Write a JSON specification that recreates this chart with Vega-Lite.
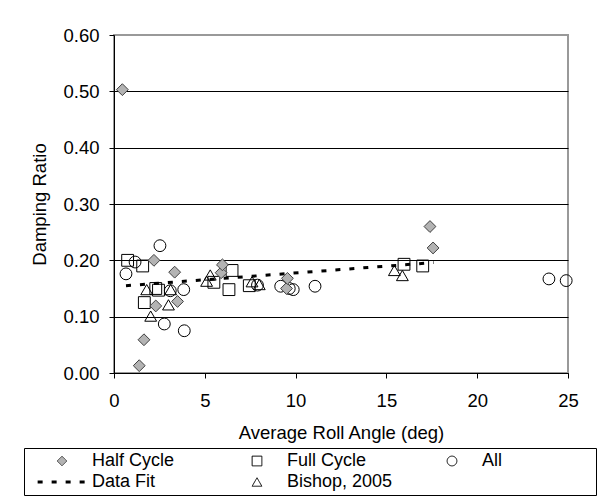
{
  "$schema": "https://vega.github.io/schema/vega-lite/v6.json",
  "width": 454,
  "height": 338,
  "autosize": {"type": "none"},
  "padding": {"left": 114, "top": 35, "right": 41, "bottom": 125},
  "background": "white",
  "data": {
    "values": [
      {"series": "Data Fit", "x": 0.66, "y": 0.155},
      {"series": "Data Fit", "x": 17.6, "y": 0.196},
      {"series": "Bishop, 2005", "x": 1.8, "y": 0.148},
      {"series": "Bishop, 2005", "x": 2.02, "y": 0.101},
      {"series": "Bishop, 2005", "x": 3.0, "y": 0.121},
      {"series": "Bishop, 2005", "x": 3.12, "y": 0.148},
      {"series": "Bishop, 2005", "x": 5.1, "y": 0.163},
      {"series": "Bishop, 2005", "x": 5.3, "y": 0.174},
      {"series": "Bishop, 2005", "x": 7.6, "y": 0.162},
      {"series": "Bishop, 2005", "x": 8.0, "y": 0.157},
      {"series": "Bishop, 2005", "x": 15.44, "y": 0.182},
      {"series": "Bishop, 2005", "x": 15.88, "y": 0.173},
      {"series": "All", "x": 0.66, "y": 0.176},
      {"series": "All", "x": 1.16, "y": 0.197},
      {"series": "All", "x": 2.53, "y": 0.226},
      {"series": "All", "x": 2.77, "y": 0.087},
      {"series": "All", "x": 3.1, "y": 0.146},
      {"series": "All", "x": 3.84, "y": 0.148},
      {"series": "All", "x": 3.87, "y": 0.075},
      {"series": "All", "x": 7.9, "y": 0.156},
      {"series": "All", "x": 9.18, "y": 0.154},
      {"series": "All", "x": 9.65, "y": 0.15},
      {"series": "All", "x": 9.87, "y": 0.148},
      {"series": "All", "x": 11.07, "y": 0.154},
      {"series": "All", "x": 23.95, "y": 0.167},
      {"series": "All", "x": 24.9, "y": 0.164},
      {"series": "Full Cycle", "x": 0.75, "y": 0.2},
      {"series": "Full Cycle", "x": 1.58, "y": 0.19},
      {"series": "Full Cycle", "x": 1.67, "y": 0.125},
      {"series": "Full Cycle", "x": 2.3, "y": 0.15},
      {"series": "Full Cycle", "x": 2.45, "y": 0.147},
      {"series": "Full Cycle", "x": 5.5, "y": 0.161},
      {"series": "Full Cycle", "x": 6.33, "y": 0.148},
      {"series": "Full Cycle", "x": 6.5, "y": 0.182},
      {"series": "Full Cycle", "x": 7.45, "y": 0.155},
      {"series": "Full Cycle", "x": 15.97, "y": 0.193},
      {"series": "Full Cycle", "x": 17.0, "y": 0.19},
      {"series": "Half Cycle", "x": 0.46, "y": 0.503},
      {"series": "Half Cycle", "x": 1.39, "y": 0.013},
      {"series": "Half Cycle", "x": 1.65, "y": 0.059},
      {"series": "Half Cycle", "x": 2.2, "y": 0.2},
      {"series": "Half Cycle", "x": 2.3, "y": 0.119},
      {"series": "Half Cycle", "x": 3.34, "y": 0.179},
      {"series": "Half Cycle", "x": 3.5, "y": 0.127},
      {"series": "Half Cycle", "x": 5.9, "y": 0.178},
      {"series": "Half Cycle", "x": 5.97, "y": 0.192},
      {"series": "Half Cycle", "x": 9.5, "y": 0.15},
      {"series": "Half Cycle", "x": 9.55, "y": 0.168},
      {"series": "Half Cycle", "x": 17.4, "y": 0.26},
      {"series": "Half Cycle", "x": 17.57, "y": 0.222}
    ]
  },
  "config": {
    "font": "Liberation Sans",
    "view": {"stroke": "#999999", "strokeWidth": 2},
    "axis": {
      "labelFont": "Liberation Sans",
      "titleFont": "Liberation Sans",
      "labelFontSize": 18.5,
      "titleFontSize": 18.5,
      "titleFontWeight": "normal",
      "labelColor": "black",
      "titleColor": "black",
      "domainColor": "black",
      "tickColor": "black",
      "tickSize": 5
    },
    "legend": {
      "labelFont": "Liberation Sans",
      "labelFontSize": 18,
      "labelColor": "black",
      "titleFont": "Liberation Sans",
      "titleFontSize": 18
    }
  },
  "layer": [
    {
      "transform": [{"filter": "datum.series === 'Data Fit'"}],
      "mark": {"type": "line", "color": "black"},
      "encoding": {
        "x": {"field": "x", "type": "quantitative", "scale": {"domain": [0, 25], "nice": false},
          "axis": {"values": [0, 5, 10, 15, 20, 25], "title": "Average Roll Angle (deg)", "grid": false, "labelPadding": 13, "titlePadding": 14, "labelFlush": false}},
        "y": {"field": "y", "type": "quantitative", "scale": {"domain": [0, 0.6], "nice": false},
          "axis": {"values": [0, 0.1, 0.2, 0.3, 0.4, 0.5, 0.6], "format": ".2f", "title": "Damping Ratio", "grid": true,
            "gridColor": {"condition": {"test": "datum.value >= 0.59", "value": "#999999"}, "value": "black"},
            "labelPadding": 10, "titlePadding": 13}},
        "strokeDash": {"field": "series", "type": "nominal",
          "scale": {"domain": ["Half Cycle", "Full Cycle", "All", "Data Fit", "Bishop, 2005"], "range": [[1, 0], [1, 0], [1, 0], [5, 9], [1, 0]]},
          "legend": {"orient": "none", "legendX": -90, "legendY": 413, "direction": "horizontal", "columns": 3, "gridAlign": "all", "columnPadding": 25, "rowPadding": 3, "padding": 4, "symbolOffset": 25, "labelOffset": 21, "symbolSize": 95, "strokeColor": "black", "title": " ", "titleOrient": "right", "titlePadding": 90}},
        "strokeWidth": {"field": "series", "type": "nominal",
          "scale": {"type": "ordinal", "domain": ["Half Cycle", "Full Cycle", "All", "Data Fit", "Bishop, 2005"], "range": [1, 1, 1, 3, 1]},
          "legend": {"orient": "none", "legendX": -90, "legendY": 413, "direction": "horizontal", "columns": 3, "gridAlign": "all", "columnPadding": 25, "rowPadding": 3, "padding": 4, "symbolOffset": 25, "labelOffset": 21, "symbolSize": 95, "strokeColor": "black", "title": " ", "titleOrient": "right", "titlePadding": 90}}
      }
    },
    {
      "transform": [{"filter": "datum.series !== 'Data Fit'"}],
      "mark": {"type": "point", "size": 140, "opacity": 1, "strokeWidth": 1},
      "encoding": {
        "x": {"field": "x", "type": "quantitative"},
        "y": {"field": "y", "type": "quantitative"},
        "shape": {"field": "series", "type": "nominal",
          "scale": {"domain": ["Half Cycle", "Full Cycle", "All", "Data Fit", "Bishop, 2005"], "range": ["diamond", "square", "circle", "M-5,0L5,0", "triangle-up"]},
          "legend": {"orient": "none", "legendX": -90, "legendY": 413, "direction": "horizontal", "columns": 3, "gridAlign": "all", "columnPadding": 25, "rowPadding": 3, "padding": 4, "symbolOffset": 25, "labelOffset": 21, "symbolSize": 95, "strokeColor": "black", "title": " ", "titleOrient": "right", "titlePadding": 90}},
        "fill": {"field": "series", "type": "nominal",
          "scale": {"domain": ["Half Cycle", "Full Cycle", "All", "Data Fit", "Bishop, 2005"], "range": ["#b3b3b3", "transparent", "transparent", "transparent", "transparent"]},
          "legend": {"orient": "none", "legendX": -90, "legendY": 413, "direction": "horizontal", "columns": 3, "gridAlign": "all", "columnPadding": 25, "rowPadding": 3, "padding": 4, "symbolOffset": 25, "labelOffset": 21, "symbolSize": 95, "strokeColor": "black", "title": " ", "titleOrient": "right", "titlePadding": 90}},
        "stroke": {"field": "series", "type": "nominal",
          "scale": {"domain": ["Half Cycle", "Full Cycle", "All", "Data Fit", "Bishop, 2005"], "range": ["#404040", "black", "black", "black", "black"]},
          "legend": {"orient": "none", "legendX": -90, "legendY": 413, "direction": "horizontal", "columns": 3, "gridAlign": "all", "columnPadding": 25, "rowPadding": 3, "padding": 4, "symbolOffset": 25, "labelOffset": 21, "symbolSize": 95, "strokeColor": "black", "title": " ", "titleOrient": "right", "titlePadding": 90}}
      }
    }
  ]
}
